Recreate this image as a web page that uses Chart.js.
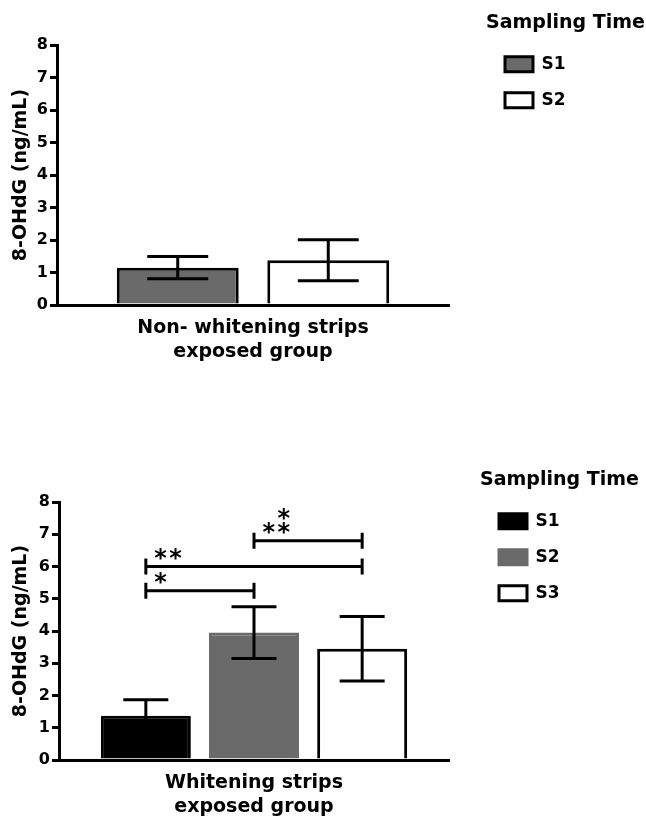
<!DOCTYPE html>
<html>
<head>
<meta charset="utf-8">
<script src="https://cdn.jsdelivr.net/npm/chart.js@4.4.1/dist/chart.umd.min.js"></script>
<style>
  body { margin: 0; background: #fff; }
  canvas { position: absolute; left: 0; }
  #top { top: 0; }
  #bottom { top: 457px; }
</style>
</head>
<body>
<canvas id="top" width="646" height="365"></canvas>
<canvas id="bottom" width="646" height="360"></canvas>
<script>
// top panel: non-whitening strips group
const topGroup = [["Non- whitening strips", "exposed group"]];
const topSeries = ["S1", "S2"];
const topMeans = [1.15, 1.38];
const topErrors = [0.34, 0.63];
const topColors = ["#6a6a6a", "#ffffff"];
const topBorders = ["#000", "#000"];

// bottom panel: whitening strips group
const bottomGroup = [["Whitening strips", "exposed group"]];
const bottomSeries = ["S1", "S2", "S3"];
const bottomMeans = [1.37, 3.95, 3.45];
const bottomErrors = [0.5, 0.8, 1.0];
const bottomColors = ["#000000", "#6a6a6a", "#ffffff"];
const bottomBorders = ["#000", "#6a6a6a", "#000"];

// significance brackets: from bar, to bar, height (ng/mL), star rows
const bracketFrom = [0, 0, 1];
const bracketTo = [1, 2, 2];
const bracketY = [5.25, 6.0, 6.8];
const bracketStars = [["*"], ["**"], [" *", "**"]];

const yTitle = "8-OHdG (ng/mL)";
const legendTitle = "Sampling Time";

Chart.defaults.font.family = "'DejaVu Sans'";
Chart.defaults.font.weight = "bold";
Chart.defaults.color = "#000";

// mean +/- error whiskers on each bar
const errorBars = {
  id: "errorBars",
  afterDatasetsDraw(chart) {
    const ctx = chart.ctx;
    const y = chart.scales.y;
    ctx.save();
    ctx.strokeStyle = "#000";
    ctx.lineWidth = 3;
    chart.data.datasets.forEach((ds, i) => {
      const bar = chart.getDatasetMeta(i).data[0];
      const hi = y.getPixelForValue(ds.data[0] + ds.errors[0]);
      const lo = y.getPixelForValue(ds.data[0] - ds.errors[0]);
      const half = bar.width / 4;
      ctx.beginPath();
      ctx.moveTo(bar.x, hi);
      ctx.lineTo(bar.x, lo);
      ctx.moveTo(bar.x - half, hi);
      ctx.lineTo(bar.x + half, hi);
      ctx.moveTo(bar.x - half, lo);
      ctx.lineTo(bar.x + half, lo);
      ctx.stroke();
    });
    ctx.restore();
  },
};

function drawStar(ctx, cx, cy) {
  ctx.textAlign = "left";
  ctx.textBaseline = "alphabetic";
  const m = ctx.measureText("*");
  ctx.fillText(
    "*",
    cx + (m.actualBoundingBoxLeft - m.actualBoundingBoxRight) / 2,
    cy + (m.actualBoundingBoxAscent - m.actualBoundingBoxDescent) / 2
  );
}

const brackets = {
  id: "brackets",
  afterDatasetsDraw(chart) {
    const ctx = chart.ctx;
    const y = chart.scales.y;
    const xs = chart.data.datasets.map((ds, i) => chart.getDatasetMeta(i).data[0].x);
    ctx.save();
    ctx.strokeStyle = "#000";
    ctx.fillStyle = "#000";
    ctx.lineWidth = 3;
    ctx.font = "bold 24px 'DejaVu Sans'";
    bracketFrom.forEach((from, k) => {
      const x0 = xs[from];
      const x1 = xs[bracketTo[k]];
      const py = y.getPixelForValue(bracketY[k]);
      ctx.beginPath();
      ctx.moveTo(x0, py);
      ctx.lineTo(x1, py);
      ctx.moveTo(x0, py - 8);
      ctx.lineTo(x0, py + 8);
      ctx.moveTo(x1, py - 8);
      ctx.lineTo(x1, py + 8);
      ctx.stroke();
      const rows = bracketStars[k];
      rows.forEach((row, r) => {
        const cy = py - 13 - (rows.length - 1 - r) * 14;
        [...row].forEach((c, j) => {
          if (c !== " ") drawStar(ctx, x0 + 15 + j * 15, cy);
        });
      });
    });
    ctx.restore();
  },
};

// the legend clips to its own box, so give it room for the title
function legendWidth(width) {
  return {
    id: "legendWidth",
    afterInit(chart) {
      const legend = chart.legend;
      const fit = legend.fit;
      legend.fit = function () {
        fit.call(this);
        this.width = width;
      };
    },
  };
}

function makeChart(id, group, series, means, errors, colors, borders, layout, plugins) {
  return new Chart(document.getElementById(id), {
    type: "bar",
    data: {
      labels: group,
      datasets: series.map((name, i) => ({
        label: name,
        data: [means[i]],
        errors: [errors[i]],
        backgroundColor: colors[i],
        borderColor: borders[i],
        borderWidth: 3,
        categoryPercentage: layout.cat,
        barPercentage: layout.bar,
      })),
    },
    options: {
      responsive: false,
      animation: false,
      layout: { padding: { top: 8, right: 0, bottom: 0, left: 0 } },
      plugins: {
        tooltip: { enabled: false },
        legend: {
          position: "right",
          align: "start",
          title: {
            display: true,
            text: legendTitle,
            position: "start",
            padding: { top: 6, bottom: 0 },
            font: { size: 19, weight: "bold" },
          },
          labels: {
            boxWidth: 28,
            boxHeight: 15,
            padding: 19,
            font: { size: 17, weight: "bold" },
          },
        },
      },
      scales: {
        x: {
          grid: { display: false, drawTicks: false },
          border: { color: "#000", width: 3 },
          ticks: { padding: 11, font: { size: 19, weight: "bold", lineHeight: 1.25 } },
          afterFit: (s) => { s.height = layout.xHeight; },
        },
        y: {
          min: 0,
          max: 8,
          ticks: { stepSize: 1, padding: 2, font: { size: 16, weight: "bold" } },
          grid: { drawOnChartArea: false, color: "#000", lineWidth: 3, tickLength: 7 },
          border: { color: "#000", width: 3 },
          title: {
            display: true,
            text: yTitle,
            padding: { top: 10 },
            font: { size: 19, weight: "bold" },
          },
          afterFit: (s) => { s.width = layout.yWidth; },
        },
        gapTop: {
          type: "linear",
          position: "top",
          ticks: { display: false },
          grid: { display: false },
          border: { display: false },
          afterFit: (s) => { s.height = 37; },
        },
        gapRight: {
          type: "linear",
          position: "right",
          ticks: { display: false },
          grid: { display: false },
          border: { display: false },
          afterFit: (s) => { s.width = layout.gapRight; },
        },
      },
    },
    plugins: plugins.concat([legendWidth(layout.legendWidth)]),
  });
}

makeChart("top", topGroup, topSeries, topMeans, topErrors, topColors, topBorders,
  { cat: 0.768, bar: 0.81, gapRight: 37, legendWidth: 160, xHeight: 60, yWidth: 57 },
  [errorBars]);

makeChart("bottom", bottomGroup, bottomSeries, bottomMeans, bottomErrors, bottomColors, bottomBorders,
  { cat: 0.832, bar: 0.832, gapRight: 31, legendWidth: 166, xHeight: 57, yWidth: 59 },
  [errorBars, brackets]);
</script>
</body>
</html>
